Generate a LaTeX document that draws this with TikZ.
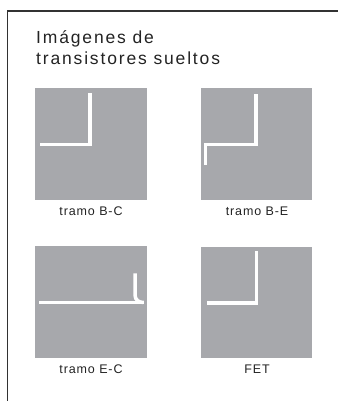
\documentclass[tikz,border=0pt]{standalone}
\usepackage{fontspec}
\setmainfont{Liberation Sans}
\newfontfamily\titlefont[LetterSpace=10.5]{Liberation Sans}
\newfontfamily\labelfont[LetterSpace=7]{Liberation Sans}
\definecolor{panelgrey}{RGB}{167,168,172}
\definecolor{ink}{RGB}{35,35,35}
\definecolor{framegrey}{RGB}{50,50,50}
\begin{document}
\begin{tikzpicture}[x=1pt,y=-1pt,
  panel/.style={fill=panelgrey},
  trace/.style={draw=white, line width=3.5pt, line cap=butt, line join=miter},
  frameline/.style={draw=framegrey, line width=1.2pt},
  lbl/.style={font=\labelfont\fontsize{12.5}{14}\selectfont, text=ink, anchor=base, inner sep=0pt},
  ttl/.style={font=\titlefont\fontsize{17.5}{20}\selectfont, text=ink, anchor=base west, inner sep=0pt}]
\useasboundingbox (0,0) rectangle (338,401);
% frame
\draw[frameline] (7.3,401) -- (7.3,11) -- (338,11);
% title
\node[ttl] (title1) at (36,43.3) {Imágenes de};
\node[ttl] (title2) at (36,64.3) {transistores sueltos};
% panel 1: tramo B-C
\fill[panel] (35,88.3) rectangle (146.7,200);
\draw[trace] (40,144.4) -- (90.2,144.4) -- (90.2,93.3);
\node[lbl] (lbc) at (91,215) {tramo B-C};
% panel 2: tramo B-E
\fill[panel] (200.7,88.3) rectangle (312.3,200);
\draw[trace] (205.3,165) -- (205.3,144.4) -- (256.2,144.4) -- (256.2,94);
\node[lbl] (lbe) at (257,215) {tramo B-E};
% panel 3: tramo E-C
\fill[panel] (35,246) rectangle (146.7,358.3);
\draw[trace] (39,302.5) -- (143.5,302.5);
\draw[trace] (135,273.3) -- (135,295) .. controls (135,300) and (139,302.5) .. (143.5,302.5);
\node[lbl] (lec) at (91,373) {tramo E-C};
% panel 4: FET
\fill[panel] (200.7,246.5) rectangle (312.3,358.3);
\draw[trace] (207.3,302.8) -- (256.6,302.8) -- (256.6,251);
\node[lbl] (lfet) at (257,373) {FET};
\end{tikzpicture}
\end{document}
